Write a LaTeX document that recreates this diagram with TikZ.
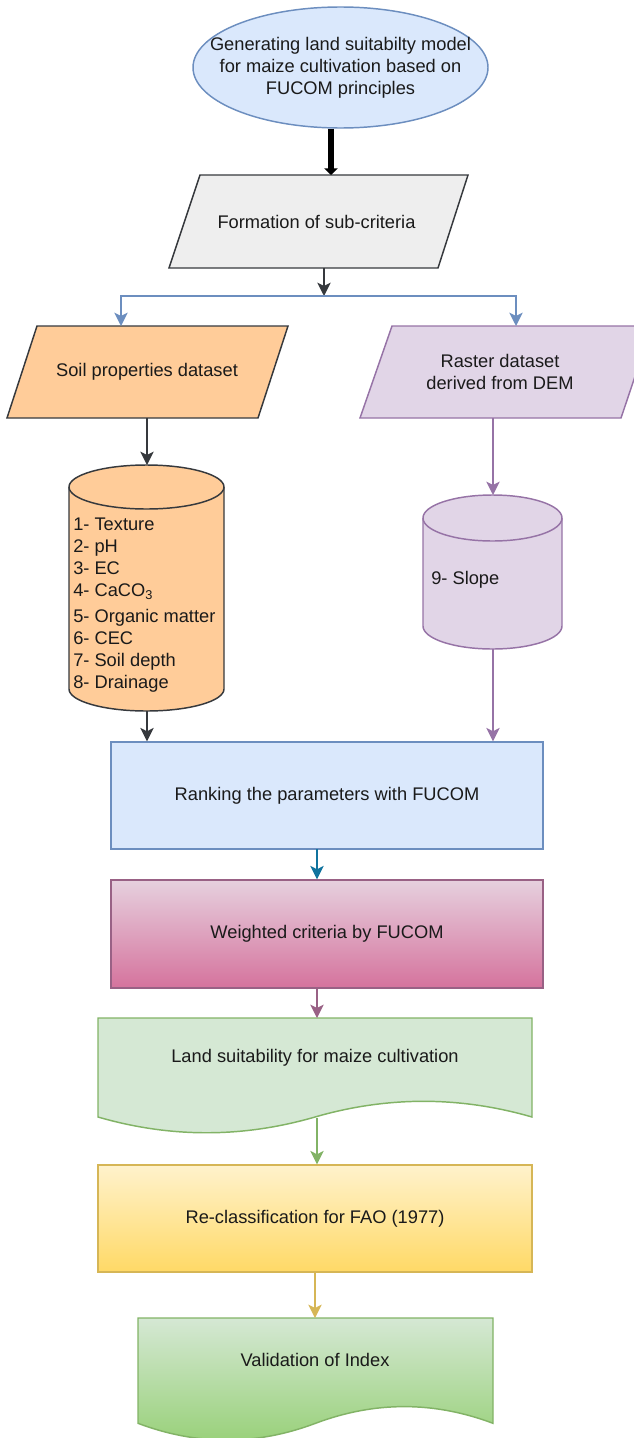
\documentclass[tikz,border=0pt]{standalone}
\usepackage{fontspec}
\setmainfont{Liberation Sans}
\usetikzlibrary{arrows.meta,shapes.geometric}
\definecolor{blueF}{HTML}{DAE8FC}
\definecolor{blueS}{HTML}{6C8EBF}
\definecolor{grayF}{HTML}{EEEEEE}
\definecolor{darkS}{HTML}{36393D}
\definecolor{orangeF}{HTML}{FFCC99}
\definecolor{purpF}{HTML}{E1D5E7}
\definecolor{purpS}{HTML}{9673A6}
\definecolor{tealS}{HTML}{10739E}
\definecolor{pinkT}{HTML}{E6D0DE}
\definecolor{pinkB}{HTML}{D5739D}
\definecolor{pinkS}{HTML}{996185}
\definecolor{greenF}{HTML}{D5E8D4}
\definecolor{greenB}{HTML}{97D077}
\definecolor{greenS}{HTML}{82B366}
\definecolor{yelT}{HTML}{FFF2CC}
\definecolor{yelB}{HTML}{FFD966}
\definecolor{yelS}{HTML}{D6B656}
\definecolor{txtC}{HTML}{1A1A1A}
\begin{document}
\begin{tikzpicture}[x=0.75pt,y=-0.75pt,
  txt/.style={font=\fontsize{13.7}{16.3}\selectfont, text=txtC, inner sep=0pt, align=center},
  shp/.style={line width=1.1pt},
  boxnode/.style={txt, shp, rectangle, minimum width=324pt, minimum height=80.25pt},
  conn/.style={line width=1.25pt, -{Stealth[length=10pt,width=10pt,inset=2.5pt]}},
  heavy/.style={line width=4.5pt, -{Triangle[length=5pt,width=10pt]}}
]
\useasboundingbox (0,0) rectangle (634,1438);

% goal ellipse
\node[ellipse, draw=blueS, fill=blueF, shp, minimum width=221.25pt, minimum height=90.75pt, inner sep=0pt] (goal) at (340.5,67.5) {};
\node[txt] (goaltxt) at (340.5,68) {Generating land suitabilty model\\for maize cultivation based on\\FUCOM principles};

% formation parallelogram
\filldraw[shp, draw=darkS, fill=grayF] (200,175) -- (468,175) -- (438,268) -- (169,268) -- cycle;
\node[txt] (form) at (316.5,222) {Formation of sub-criteria};
\coordinate (formT) at (331,175);
\coordinate (formB) at (324,268);
\coordinate (split) at (324,296);

% soil properties parallelogram
\filldraw[shp, draw=darkS, fill=orangeF] (37,326) -- (288,326) -- (258,418) -- (7,418) -- cycle;
\node[txt] (soil) at (147,372) {Soil properties dataset};
\coordinate (soilT) at (121,326);
\coordinate (soilB) at (147,418);

% raster parallelogram
\filldraw[shp, draw=purpS, fill=purpF] (392,326) -- (652,326) -- (621,418) -- (360,418) -- cycle;
\node[txt] (raster) at (500,372) {Raster dataset\\derived from DEM};
\coordinate (rasT) at (516,326);
\coordinate (rasB) at (493,418);

% soil cylinder
\filldraw[shp, draw=darkS, fill=orangeF] (69,487) -- (69,689)
  arc[start angle=180, end angle=360, x radius=58.125pt, y radius=16.5pt] -- (224,487)
  arc[start angle=0, end angle=180, x radius=58.125pt, y radius=16.5pt] -- cycle;
\draw[shp, darkS] (69,487) arc[start angle=180, end angle=360, x radius=58.125pt, y radius=16.5pt];
\node[txt, align=left, anchor=west, font=\fontsize{13.7}{16.5}\selectfont] (soillist) at (73,605)
  {1- Texture\\2- pH\\3- EC\\4- CaCO\textsubscript{3}\\[3pt]5- Organic matter\\6- CEC\\7- Soil depth\\8- Drainage};
\coordinate (scT) at (147,465);
\coordinate (scB) at (147,711);

% slope cylinder
\filldraw[shp, draw=purpS, fill=purpF] (423,518) -- (423,626)
  arc[start angle=180, end angle=360, x radius=52.125pt, y radius=17.25pt] -- (562,518)
  arc[start angle=0, end angle=180, x radius=52.125pt, y radius=17.25pt] -- cycle;
\draw[shp, purpS] (423,518) arc[start angle=180, end angle=360, x radius=52.125pt, y radius=17.25pt];
\node[txt, anchor=west] (slope) at (431,580) {9- Slope};
\coordinate (slT) at (493,495);
\coordinate (slB) at (493,649);

% ranking
\node[boxnode, draw=blueS, fill=blueF] (rank) at (327,795.5) {Ranking the parameters with FUCOM};
\coordinate (rankS) at (317,849);

% weighted
\node[boxnode, draw=pinkS, top color=pinkT, bottom color=pinkB, minimum height=81pt] (weight) at (327,934) {Weighted criteria by FUCOM};
\coordinate (weightS) at (317,988);

% land suitability document
\filldraw[shp, draw=greenS, fill=greenF] (98,1018) -- (532,1018) -- (532,1117)
  .. controls (459.67,1096.07) and (387.33,1096.07) .. (315,1117)
  .. controls (242.67,1138) and (170.33,1138) .. (98,1117) -- cycle;
\node[txt] (land) at (315,1058) {Land suitability for maize cultivation};
\coordinate (landT) at (317,1018);
\coordinate (landB) at (317,1117.5);

% reclassification
\node[boxnode, draw=yelS, top color=yelT, bottom color=yelB, minimum width=325.5pt] (reclass) at (315,1218.5) {Re-classification for FAO (1977)};
\coordinate (valT) at (315,1318);

% validation document
\path[shp, draw=greenS, top color=greenF, bottom color=greenB] (138,1318) -- (493,1318) -- (493,1423.3)
  .. controls (433.83,1401.03) and (374.67,1401.03) .. (315.5,1423.3)
  .. controls (256.33,1445.63) and (197.17,1445.63) .. (138,1423.3) -- cycle;
\node[txt] (valid) at (315,1360) {Validation of Index};

% connectors
\draw[heavy] (goal.south -| formT) -- (formT);
\draw[conn, darkS] (formB) -- (split);
\draw[conn, blueS] (split) -| (soilT);
\draw[conn, blueS] (split) -| (rasT);
\draw[conn, darkS] (soilB) -- (scT);
\draw[conn, purpS] (rasB) -- (slT);
\draw[conn, darkS] (scB) -- (rank.north -| scB);
\draw[conn, purpS] (slB) -- (rank.north -| slB);
\draw[conn, tealS] (rankS) -- (weight.north -| rankS);
\draw[conn, pinkS] (weightS) -- (landT);
\draw[conn, greenS] (landB) -- (reclass.north -| landB);
\draw[conn, yelS] (reclass.south -| valT) -- (valT);
\end{tikzpicture}
\end{document}
